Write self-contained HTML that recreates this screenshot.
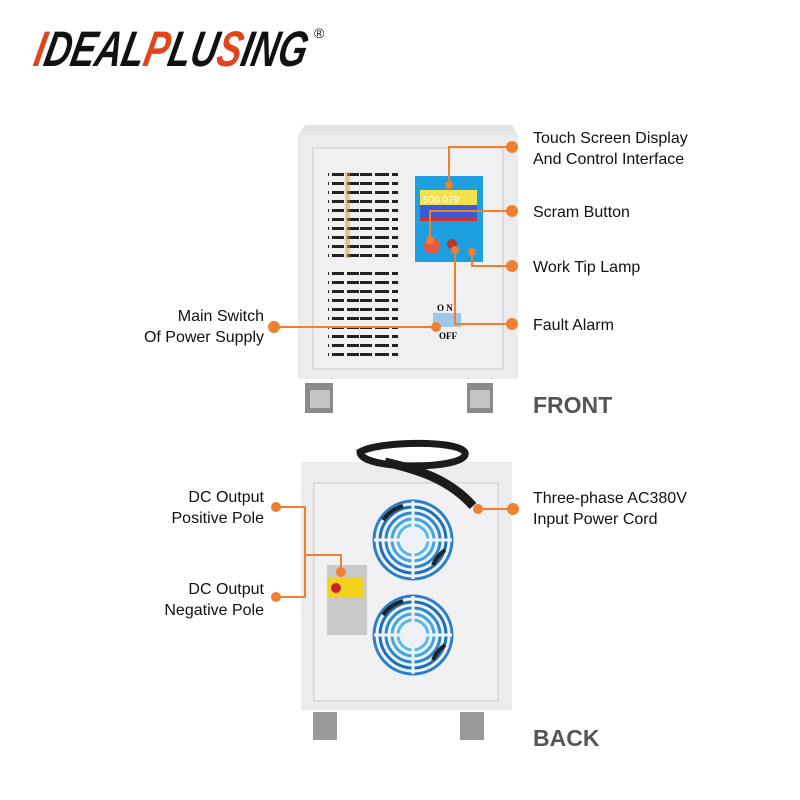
<!DOCTYPE html>
<html><head><meta charset="utf-8"><style>
html,body{margin:0;padding:0;background:#fff;}
body{width:800px;height:800px;overflow:hidden;position:relative;font-family:"Liberation Sans",sans-serif;}
</style></head><body>
<svg width="800" height="800" viewBox="0 0 800 800" xmlns="http://www.w3.org/2000/svg" style="position:absolute;left:0;top:0">
<defs>
<pattern id="vent" width="60" height="9" patternUnits="userSpaceOnUse">
<rect x="0" y="2" width="12" height="3" fill="#222"/><rect x="15" y="2" width="14" height="3" fill="#222"/>
<rect x="32" y="2" width="12" height="3" fill="#222"/><rect x="47" y="2" width="12" height="3" fill="#222"/>
</pattern>
<g id="fan">
<circle r="41" fill="#eef2f6"/>
<circle r="39" fill="none" stroke="#2a7fc8" stroke-width="3"/>
<circle r="33" fill="none" stroke="#1c6fb8" stroke-width="3"/>
<circle r="27" fill="none" stroke="#2b86d0" stroke-width="3"/>
<circle r="21" fill="none" stroke="#44a6e0" stroke-width="3"/>
<circle r="15" fill="none" stroke="#5ab8ea" stroke-width="3"/>
<path d="M-39 0 L39 0 M0 -39 L0 39" stroke="#eef2f6" stroke-width="3"/>
<path d="M-30 -20 A36 36 0 0 1 -10 -34 M20 25 A34 34 0 0 1 32 10" stroke="#222" stroke-width="4" fill="none"/>
</g>
</defs>

<!-- logo -->
<g font-family="Liberation Sans" font-weight="bold" font-style="italic" font-size="50" transform="translate(32,66) skewX(-12)">
<text x="0" y="0" textLength="272" lengthAdjust="spacingAndGlyphs"><tspan fill="#e0451e">I</tspan><tspan fill="#111">DEAL</tspan><tspan fill="#e0451e">P</tspan><tspan fill="#111">LU</tspan><tspan fill="#e0451e">S</tspan><tspan fill="#111">ING</tspan></text>
</g>
<text x="314" y="38" font-size="14" fill="#111">®</text>

<!-- FRONT unit -->
<polygon points="305,125 512,125 518,136 298,136" fill="#e4e4e6"/>
<rect x="298" y="135" width="220" height="244" fill="#ececee"/>
<rect x="313" y="148" width="190" height="221" fill="#f0f0f2" stroke="#c8c8cc"/>
<rect x="328" y="170" width="70" height="90" fill="url(#vent)"/>
<rect x="328" y="268" width="70" height="92" fill="url(#vent)"/>
<rect x="345" y="172" width="5" height="86" fill="#d59a2a" opacity="0.5"/>
<rect x="415" y="176" width="68" height="86" fill="#1e9fe0"/>
<rect x="420" y="190" width="57" height="30" fill="#f4e24a"/>
<rect x="420" y="205" width="57" height="12" fill="#3a5bd8"/>
<rect x="420" y="217" width="57" height="4" fill="#d03030"/>
<text x="423" y="203" font-size="10" fill="#fff">500.079</text>
<circle cx="432" cy="246" r="8" fill="#e65a40"/>
<circle cx="452" cy="244" r="5" fill="#b23a30"/>
<rect x="433" y="313" width="28" height="14" fill="#9cc8ea"/>
<text x="437" y="311" font-size="9" font-weight="bold" font-family="Liberation Serif">O N</text>
<text x="439" y="339" font-size="9" font-weight="bold" font-family="Liberation Serif">OFF</text>
<rect x="305" y="383" width="28" height="30" fill="#8a8a8c"/>
<rect x="467" y="383" width="26" height="30" fill="#8a8a8c"/>
<rect x="310" y="390" width="20" height="18" fill="#c4c4c6"/>
<rect x="470" y="390" width="20" height="18" fill="#c4c4c6"/>

<!-- BACK unit -->
<rect x="301" y="462" width="211" height="248" fill="#ececee"/>
<rect x="314" y="483" width="184" height="218" fill="#f1f1f3" stroke="#c8c8cc"/>
<use href="#fan" x="413" y="540"/>
<use href="#fan" x="413" y="635"/>
<rect x="327" y="565" width="40" height="70" fill="#c9c9cb"/>
<rect x="328" y="578" width="35" height="20" fill="#f2d21a"/>
<circle cx="336" cy="588" r="5" fill="#c23"/>
<path d="M360 452 C 380 440, 470 440, 465 455 C 460 470, 360 470, 360 452 Z" fill="none" stroke="#1b1b1b" stroke-width="7"/>
<path d="M385 462 C 420 470, 450 480, 473 506" fill="none" stroke="#1b1b1b" stroke-width="9"/>
<rect x="313" y="712" width="24" height="28" fill="#9a9a9c"/>
<rect x="460" y="712" width="24" height="28" fill="#9a9a9c"/>

<!-- connectors -->
<g stroke="#ee8030" stroke-width="2" fill="none">
<polyline points="512,147 449,147 449,185"/>
<polyline points="512,211 430,211 430,240"/>
<polyline points="512,266 472,266 472,252"/>
<polyline points="512,324 455,324 455,250"/>
<polyline points="274,327 436,327"/>
<polyline points="276,507 305,507 305,597 276,597"/>
<polyline points="305,555 341,555 341,572"/>
<polyline points="513,509 478,509"/>
</g>
<g fill="#ee8030">
<circle cx="512" cy="147" r="6"/><circle cx="449" cy="185" r="4"/>
<circle cx="512" cy="211" r="6"/><circle cx="430" cy="240" r="4"/>
<circle cx="512" cy="266" r="6"/><circle cx="472" cy="252" r="4"/>
<circle cx="512" cy="324" r="6"/><circle cx="455" cy="250" r="4"/>
<circle cx="274" cy="327" r="6"/><circle cx="436" cy="327" r="5"/>
<circle cx="276" cy="507" r="5"/><circle cx="276" cy="597" r="5"/>
<circle cx="341" cy="572" r="5"/>
<circle cx="513" cy="509" r="6"/><circle cx="478" cy="509" r="5"/>
</g>

<!-- labels -->
<g font-size="16" fill="#111">
<text x="533" y="143">Touch Screen Display</text>
<text x="533" y="164">And Control Interface</text>
<text x="533" y="217">Scram Button</text>
<text x="533" y="272">Work Tip Lamp</text>
<text x="533" y="330">Fault Alarm</text>
<text x="264" y="321" text-anchor="end">Main Switch</text>
<text x="264" y="342" text-anchor="end">Of Power Supply</text>
<text x="264" y="502" text-anchor="end">DC Output</text>
<text x="264" y="523" text-anchor="end">Positive Pole</text>
<text x="264" y="594" text-anchor="end">DC Output</text>
<text x="264" y="615" text-anchor="end">Negative Pole</text>
<text x="533" y="503">Three-phase AC380V</text>
<text x="533" y="524">Input Power Cord</text>
</g>
<text x="533" y="413" font-size="23" font-weight="bold" fill="#555">FRONT</text>
<text x="533" y="746" font-size="23" font-weight="bold" fill="#555">BACK</text>
</svg>
</body></html>
